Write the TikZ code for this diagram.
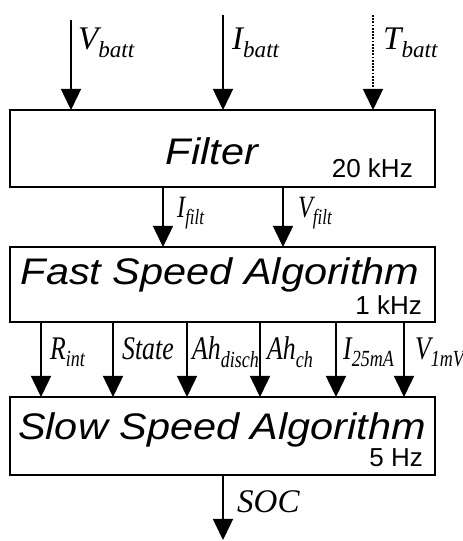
\documentclass[tikz,border=0pt]{standalone}
\usepackage{fontspec}
\setmainfont{Liberation Serif}
\newfontfamily\blockfont[FakeStretch=1.12]{Liberation Sans}
\newfontfamily\freqfont{Liberation Sans}
\newfontfamily\narrowfont[FakeStretch=0.78]{Liberation Serif}
\usepackage{tikz}
\usetikzlibrary{arrows.meta, positioning}
\newcommand{\sig}[2]{\textit{#1\textsubscript{#2}}}

\begin{document}
\begin{tikzpicture}[x=1pt, y=1pt,
  block/.style={rectangle, draw, line width=1.8pt, minimum width=425pt, inner sep=0pt, outer sep=0pt},
  title/.style={anchor=base, inner sep=0pt, font=\blockfont\itshape\fontsize{37}{41}\selectfont},
  freq/.style={anchor=base east, inner sep=0pt, font=\freqfont\fontsize{26}{30}\selectfont},
  toplabel/.style={anchor=base west, inner sep=0pt, font=\fontsize{33}{37}\selectfont},
  filtlabel/.style={anchor=base west, inner sep=0pt, font=\narrowfont\fontsize{31}{35}\selectfont},
  midlabel/.style={anchor=base west, inner sep=0pt, font=\narrowfont\fontsize{33}{38}\selectfont},
  line/.style={draw, line width=1.5pt, -{Triangle[width=20pt,length=21pt]}},
  dotline/.style={line, dash pattern=on 1.8pt off 1.4pt}]

  \useasboundingbox (0,0) rectangle (463,541);

  % blocks
  \node [block, minimum height=77pt] (filter) at (222.5,392.5) {};
  \node [block, minimum height=75pt, below=60pt of filter] (fast) {};
  \node [block, minimum height=78pt, below=75pt of fast] (slow) {};

  \node [title] (filtertext) at ([xshift=-10.5pt, yshift=-16.5pt]filter.center) {Filter};
  \node [title] (fasttext) at ([xshift=-2.5pt, yshift=-0.5pt]fast.center) {Fast Speed Algorithm};
  \node [title] (slowtext) at ([xshift=-0.5pt, yshift=-4pt]slow.center) {Slow Speed Algorithm};

  \node [freq] (filterfreq) at ([xshift=-22pt, yshift=9pt]filter.south east) {20 kHz};
  \node [freq] (fastfreq) at ([xshift=-13pt, yshift=7pt]fast.south east) {1 kHz};
  \node [freq] (slowfreq) at ([xshift=-12pt, yshift=8pt]slow.south east) {5 Hz};

  % inputs
  \coordinate (vbatt) at (71,521);
  \coordinate (ibatt) at (223,526);
  \coordinate (tbatt) at (373,526);
  \draw [line] (vbatt) -- (vbatt |- filter.north);
  \draw [line] (ibatt) -- (ibatt |- filter.north);
  \draw [dotline] (tbatt) -- (tbatt |- filter.north);
  \node [toplabel] (vbattlabel) at (78,491) {\sig{V}{batt}};
  \node [toplabel] (ibattlabel) at (232,491) {\sig{I}{batt}};
  \node [toplabel] (tbattlabel) at (383,491) {\sig{T}{batt}};

  % filter to fast
  \coordinate (ifilt) at (163,0);
  \coordinate (vfilt) at (283,0);
  \draw [line] (ifilt |- filter.south) -- (ifilt |- fast.north);
  \draw [line] (vfilt |- filter.south) -- (vfilt |- fast.north);
  \node [filtlabel] (ifiltlabel) at (177,323) {\sig{I}{filt}};
  \node [filtlabel] (vfiltlabel) at (298,323) {\sig{V}{filt}};

  % fast to slow
  \coordinate (rint) at (41,0);
  \coordinate (state) at (113,0);
  \coordinate (ahdis) at (187,0);
  \coordinate (ahch) at (260,0);
  \coordinate (itwofive) at (336,0);
  \coordinate (vone) at (404,0);
  \draw [line] (rint |- fast.south) -- (rint |- slow.north);
  \draw [line] (state |- fast.south) -- (state |- slow.north);
  \draw [line] (ahdis |- fast.south) -- (ahdis |- slow.north);
  \draw [line] (ahch |- fast.south) -- (ahch |- slow.north);
  \draw [line] (itwofive |- fast.south) -- (itwofive |- slow.north);
  \draw [line] (vone |- fast.south) -- (vone |- slow.north);
  \node [midlabel] (rintlabel) at (50,181) {\sig{R}{int}};
  \node [midlabel] (statelabel) at (122,181) {\textit{State}};
  \node [midlabel] (ahdislabel) at (192,181) {\sig{Ah}{disch}};
  \node [midlabel] (ahchlabel) at (267,181) {\sig{Ah}{ch}};
  \node [midlabel] (itwofivelabel) at (343,181) {\sig{I}{25mA}};
  \node [midlabel] (vonelabel) at (415,181) {\sig{V}{1mV}};

  % output
  \coordinate (soc) at (223,1);
  \draw [line] (soc |- slow.south) -- (soc);
  \node [toplabel] (soclabel) at (237,28) {\textit{SOC}};

\end{tikzpicture}
\end{document}
